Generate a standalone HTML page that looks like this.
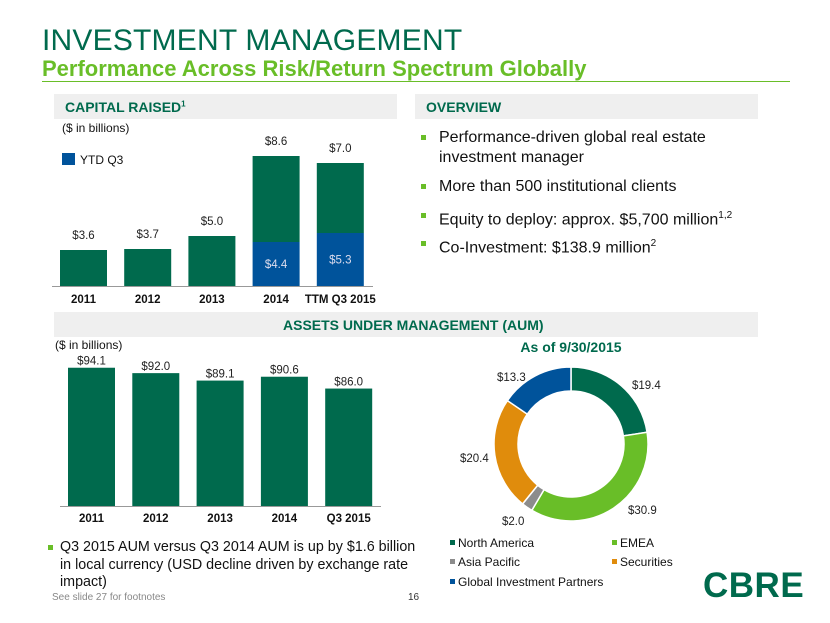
<!DOCTYPE html>
<html><head><meta charset="utf-8"><style>
body{margin:0;width:830px;height:623px;background:#fff;font-family:"Liberation Sans",sans-serif;position:relative;overflow:hidden}
.a{position:absolute}
.band{position:absolute;background:#efefef;height:25px}
.hd{position:absolute;color:#006a4d;font-weight:bold;font-size:14px}
.bl{position:absolute;font-size:16px;color:#111;line-height:20px}
.bl::before{content:"";position:absolute;left:-18px;top:7px;width:5px;height:5px;background:#69be28}
.bl.note::before{left:-12px;top:6px}
</style></head><body>
<div class="a" style="left:42px;top:24px;font-size:30px;color:#006a4d;letter-spacing:0.2px">INVESTMENT MANAGEMENT</div>
<div class="a" style="left:42px;top:56px;font-size:22px;font-weight:bold;color:#69be28">Performance Across Risk/Return Spectrum Globally</div>
<div class="a" style="left:42px;top:81px;width:748px;height:1px;background:#69be28"></div>

<div class="band" style="left:54px;top:94px;width:343px"></div>
<div class="hd" style="left:65px;top:99px">CAPITAL RAISED<sup style="font-size:8px">1</sup></div>
<div class="band" style="left:415px;top:94px;width:343px"></div>
<div class="hd" style="left:426px;top:99px">OVERVIEW</div>
<div class="band" style="left:54px;top:312px;width:704px"></div>
<div class="hd" style="left:283px;top:317px">ASSETS UNDER MANAGEMENT (AUM)</div>

<div class="bl" style="left:439px;top:128px">Performance-driven global real estate<br>investment manager</div>
<div class="bl" style="left:439px;top:177px">More than 500 institutional clients</div>
<div class="bl" style="left:439px;top:206px">Equity to deploy: approx. $5,700 million<sup style="font-size:10px">1,2</sup></div>
<div class="bl" style="left:439px;top:234px">Co-Investment: $138.9 million<sup style="font-size:10px">2</sup></div>

<div class="bl note" style="left:60px;top:539px;font-size:14.3px;line-height:17.5px">Q3 2015 AUM versus Q3 2014 AUM is up by $1.6 billion<br>in local currency (USD decline driven by exchange rate<br>impact)</div>
<div class="a" style="left:52px;top:592px;font-size:10px;color:#888">See slide 27 for footnotes</div>
<div class="a" style="left:408px;top:592px;font-size:10px;color:#333">16</div>
<div class="a" style="left:703px;top:566px;font-size:35px;font-weight:bold;color:#006a4d;letter-spacing:0.5px">CBRE</div>

<svg class="a" style="left:0;top:0" width="830" height="623">
<g id="cap"></g>
<g id="aum"></g>
<g id="pie"></g>
</svg>
<script>
const capCats=["2011","2012","2013","2014","TTM Q3 2015"];
const capFull=[3.6,3.7,5.0,8.6,7.0];
const capYtd=[0,0,0,4.4,5.3];
const aumCats=["2011","2012","2013","2014","Q3 2015"];
const aumVals=[94.1,92.0,89.1,90.6,86.0];
const pieCats=["North America","EMEA","Asia Pacific","Securities","Global Investment Partners"];
const pieVals=[19.4,30.9,2.0,20.4,13.3];
const pieColors=["#006a4d","#69be28","#8c8c8c","#e08c0c","#00539b"];
const NS="http://www.w3.org/2000/svg";
function mk(p,t,a,txt){const e=document.createElementNS(NS,t);for(const k in a)e.setAttribute(k,a[k]);if(txt!==undefined)e.textContent=txt;p.appendChild(e);return e;}
(function(){
const g=document.getElementById('cap');
const base=286,k=10,x0=60,step=64.2,w=47;
const y=v=>base-v*k;
mk(g,'text',{x:62,y:132,'font-size':12,fill:'#111'},'($ in billions)');
const lr=mk(g,'rect',{x:62,y:153,width:13,height:12,fill:'#00539b'});

mk(g,'text',{x:80,y:164,'font-size':12,fill:'#111'},'YTD Q3');
capCats.forEach((c,i)=>{
 const x=x0+i*step, yb=capYtd[i], tot=yb+capFull[i];
 const r=mk(g,'rect',{x:x,y:y(tot),width:w,height:capFull[i]*k,fill:'#006a4d'});
 
 
 if(yb>0){const b=mk(g,'rect',{x:x,y:y(yb),width:w,height:yb*k,fill:'#00539b'});
  
  
  mk(g,'text',{x:x+w/2,y:y(yb/2)+4,'font-size':11.5,fill:'#dde','text-anchor':'middle'},'$'+yb.toFixed(1));}
 mk(g,'text',{x:x+w/2,y:y(tot)-11,'font-size':11.5,fill:'#222','text-anchor':'middle'},'$'+capFull[i].toFixed(1));
 mk(g,'text',{x:x+w/2,y:303,'font-size':11.5,'font-weight':'bold',fill:'#111','text-anchor':'middle'},c);
});
mk(g,'line',{x1:52,x2:373,y1:286.5,y2:286.5,stroke:'#999','stroke-width':1});
})();
(function(){
const g=document.getElementById('aum');
const base=506,k=2.57,m=40.3,x0=68,step=64.3,w=47;
const y=v=>base-(v-m)*k;
mk(g,'text',{x:55,y:349,'font-size':12,fill:'#111'},'($ in billions)');
aumCats.forEach((c,i)=>{
 const x=x0+i*step;
 const r=mk(g,'rect',{x:x,y:y(aumVals[i]),width:w,height:base-y(aumVals[i]),fill:'#006a4d'});
 
 
 mk(g,'text',{x:x+w/2,y:y(aumVals[i])-3,'font-size':11.5,fill:'#222','text-anchor':'middle'},'$'+aumVals[i].toFixed(1));
 mk(g,'text',{x:x+w/2,y:522,'font-size':11.5,'font-weight':'bold',fill:'#111','text-anchor':'middle'},c);
});
mk(g,'line',{x1:60,x2:381,y1:506.5,y2:506.5,stroke:'#999','stroke-width':1});
})();
(function(){
const g=document.getElementById('pie');
const cx=571,cy=444,R=77,r=53;
mk(g,'text',{x:571,y:352,'font-size':14,'font-weight':'bold',fill:'#006a4d','text-anchor':'middle'},'As of 9/30/2015');
const tot=pieVals.reduce((a,b)=>a+b,0);
let a0=0;
const lbl=[[632,389],[628,514],[502,525],[460,462],[497,381]];
pieVals.forEach((v,i)=>{
 const a1=a0+v/tot*2*Math.PI;
 const p=(a,rr)=>[cx+rr*Math.sin(a),cy-rr*Math.cos(a)];
 const [x1,y1]=p(a0,R),[x2,y2]=p(a1,R),[x3,y3]=p(a1,r),[x4,y4]=p(a0,r);
 const lg=(a1-a0)>Math.PI?1:0;
 const s=mk(g,'path',{d:`M${x1},${y1}A${R},${R} 0 ${lg} 1 ${x2},${y2}L${x3},${y3}A${r},${r} 0 ${lg} 0 ${x4},${y4}Z`,fill:pieColors[i],stroke:'#fff','stroke-width':1.5});
 
 
 mk(g,'text',{x:lbl[i][0],y:lbl[i][1],'font-size':11.5,fill:'#222','text-anchor':'start'},'$'+v.toFixed(1));
 a0=a1;
});
const lp=[[450,547],[612,547],[450,566],[612,566],[450,586]];
pieCats.forEach((c,i)=>{
 const sw=mk(g,'rect',{x:lp[i][0],y:lp[i][1]-7,width:5,height:5,fill:pieColors[i]});
 
 
 mk(g,'text',{x:lp[i][0]+8,y:lp[i][1],'font-size':12,fill:'#111'},c);
});
})();
</script>
</body></html>
